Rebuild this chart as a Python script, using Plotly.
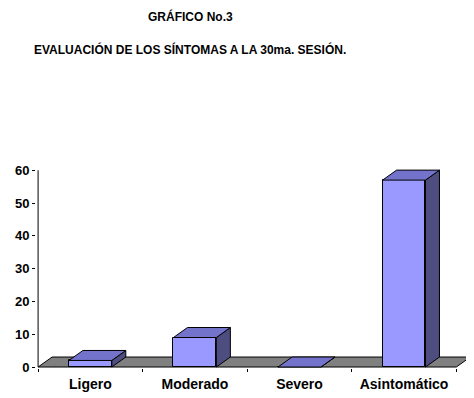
import plotly.graph_objects as go

categories = ["Ligero", "Moderado", "Severo", "Asintomático"]
values = [2, 9, 0, 57]
y_ticks = [0, 10, 20, 30, 40, 50, 60]
title_1 = "GRÁFICO No.3"
title_2 = "EVALUACIÓN DE LOS SÍNTOMAS A LA 30ma. SESIÓN."

FRONT = "#9999FF"
TOP = "#7373CC"
SIDE = "#4D4D80"
FLOOR = "#808080"

BAR_W = 0.41      # category units
DX = 0.134        # depth offset in category units
DY = 3.05         # depth offset in value units

fig = go.Figure()

shapes = []
n = len(categories)
# floor
shapes.append(dict(type="path", xref="x", yref="y", layer="below",
                   path=f"M {-0.5},0 L {n-0.5},0 L {n-0.5+DX},{DY} L {-0.5+DX},{DY} Z",
                   fillcolor=FLOOR, line=dict(color="black", width=1)))

fig.add_trace(go.Bar(x=categories, y=values, width=BAR_W,
                     marker=dict(color=FRONT, line=dict(color="black", width=1)),
                     hoverinfo="skip"))

for i, v in enumerate(values):
    xl = i - BAR_W / 2
    xr = i + BAR_W / 2
    # side
    shapes.append(dict(type="path", xref="x", yref="y", layer="above",
                       path=f"M {xr},0 L {xr+DX},{DY} L {xr+DX},{v+DY} L {xr},{v} Z",
                       fillcolor=SIDE, line=dict(color="black", width=1)))
    # top
    shapes.append(dict(type="path", xref="x", yref="y", layer="above",
                       path=f"M {xl},{v} L {xr},{v} L {xr+DX},{v+DY} L {xl+DX},{v+DY} Z",
                       fillcolor=TOP, line=dict(color="black", width=1)))

# value axis line
shapes.append(dict(type="line", xref="x", yref="y", layer="above",
                   x0=-0.5, x1=-0.5, y0=y_ticks[0], y1=y_ticks[-1],
                   line=dict(color="black", width=1)))

PLOT_W = 435.8
PLOT_H = 201.3
L, T = 28, 158.7

fig.update_layout(
    width=466, height=390,
    margin=dict(l=L, r=466 - L - PLOT_W, t=T, b=390 - T - PLOT_H),
    paper_bgcolor="white", plot_bgcolor="white",
    showlegend=False,
    bargap=0,
    shapes=shapes,
    font=dict(family="Liberation Sans, Arial, sans-serif", color="black"),
    xaxis=dict(type="category", range=[-0.52, 3.65], tickson="boundaries",
               ticks="outside", ticklen=3, tickcolor="black", showline=False,
               showgrid=False, zeroline=False, ticklabelstandoff=6,
               tickfont=dict(size=14, family="Liberation Sans, Arial, sans-serif", weight="bold")),
    yaxis=dict(range=[-0.3, 61], tickvals=y_ticks, ticks="outside", ticklen=3,
               tickcolor="black", showline=False, showgrid=False, zeroline=False,
               tickfont=dict(size=13, family="Liberation Sans, Arial, sans-serif", weight="bold")),
)

fig.add_annotation(text=f"<b>{title_1}</b>", xref="paper", yref="paper",
                   x=(190 - 36) / PLOT_W, y=1 + (166.7 - 16) / PLOT_H,
                   xanchor="center", yanchor="middle", showarrow=False,
                   font=dict(size=12))
fig.add_annotation(text=f"<b>{title_2}</b>", xref="paper", yref="paper",
                   x=(190 - 36) / PLOT_W, y=1 + (166.7 - 49.5) / PLOT_H,
                   xanchor="center", yanchor="middle", showarrow=False,
                   font=dict(size=12))

fig.write_html("out.html")
